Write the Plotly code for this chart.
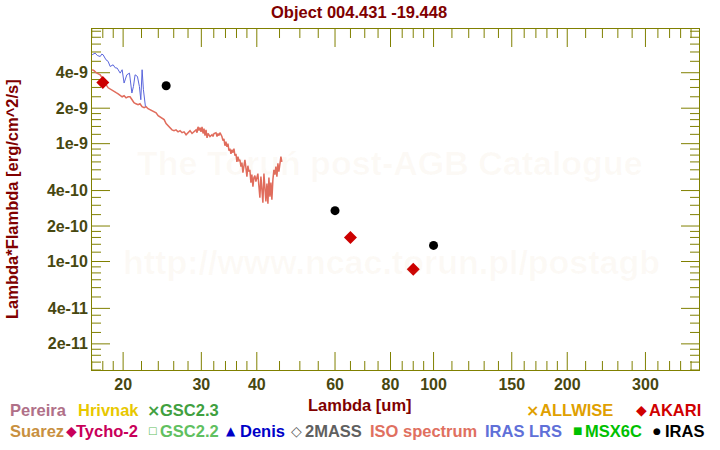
import math
import plotly.graph_objects as go

# ---------------- data ----------------
title_text = "Object 004.431 -19.448"

iso_wavelength = [
    17.03, 17.21, 17.39, 17.57, 17.76, 17.94, 18.13, 18.32, 18.51, 18.70,
    18.89, 19.09, 19.29, 19.49, 19.70, 19.90, 20.10, 20.31, 20.52, 20.73,
    20.95, 21.16, 21.38, 21.61, 21.83, 22.06, 22.30, 22.53, 22.76, 23.00,
    23.24, 23.48, 23.73, 23.98, 24.23, 24.48, 24.74, 24.99, 25.25, 25.50,
    25.77, 26.04, 26.31, 26.59, 26.87, 27.15, 27.43, 27.72, 28.00, 28.29,
    28.59, 28.88, 29.19, 29.34, 29.49, 29.65,
    29.80, 29.95, 30.11, 30.27, 30.42, 30.58, 30.74, 30.90, 31.06, 31.38,
    31.71, 31.87, 32.04, 32.37, 32.54, 32.70, 32.87, 33.04, 33.38, 33.56,
    33.73, 33.91, 34.08, 34.26, 34.44, 34.62, 34.80, 34.98, 35.16, 35.34,
    35.53, 35.71, 35.90, 36.08, 36.27, 36.46,
    36.65, 36.84, 37.03, 37.22, 37.41, 37.61, 37.80, 38.00, 38.19, 38.39,
    38.59, 38.79, 38.99, 39.20, 39.40, 39.60, 39.81, 40.02, 40.22, 40.43,
    40.64, 40.86, 41.07, 41.28, 41.50, 41.71, 41.93, 42.15, 42.37, 42.59,
    42.81, 43.03, 43.25, 43.48, 43.70, 43.93, 44.16, 44.39, 44.62, 44.85,
    45.08, 45.32, 45.55,
]
iso_flux = [
    4.24e-9, 4.16e-9, 4.00e-9, 3.92e-9, 3.84e-9, 3.62e-9, 3.42e-9, 3.16e-9, 2.98e-9, 2.92e-9,
    2.87e-9, 2.81e-9, 2.71e-9, 2.65e-9, 2.55e-9, 2.50e-9, 2.55e-9, 2.45e-9, 2.50e-9, 2.50e-9,
    2.36e-9, 2.23e-9, 2.18e-9, 2.14e-9, 2.18e-9, 2.06e-9, 2.02e-9, 2.06e-9, 1.98e-9, 1.94e-9,
    1.90e-9, 1.87e-9, 1.83e-9, 1.73e-9, 1.69e-9, 1.63e-9, 1.60e-9, 1.48e-9, 1.42e-9, 1.37e-9,
    1.31e-9, 1.29e-9, 1.31e-9, 1.26e-9, 1.29e-9, 1.24e-9, 1.26e-9, 1.19e-9, 1.24e-9, 1.29e-9,
    1.22e-9, 1.26e-9, 1.31e-9, 1.24e-9, 1.39e-9, 1.29e-9,
    1.37e-9, 1.26e-9, 1.39e-9, 1.22e-9, 1.34e-9, 1.17e-9, 1.31e-9, 1.12e-9, 1.22e-9, 1.15e-9,
    1.19e-9, 1.15e-9, 1.22e-9, 1.24e-9, 1.15e-9, 1.22e-9, 1.17e-9, 1.24e-9, 1.15e-9, 1.06e-9,
    1.10e-9, 9.6e-10, 1.04e-9, 9.4e-10, 1.00e-9, 8.72e-10, 9.07e-10, 8.2e-10, 8.9e-10, 8.39e-10,
    9.07e-10, 7.9e-10, 8.2e-10, 7.0e-10, 7.76e-10, 7.18e-10,
    7.3e-10, 6.38e-10, 6.9e-10, 5.68e-10, 6.8e-10, 7.3e-10, 6.26e-10, 5.25e-10, 6.5e-10, 5.8e-10,
    6.0e-10, 4.67e-10, 5.46e-10, 4.32e-10, 5.15e-10, 5.36e-10, 4.76e-10, 5.15e-10, 5.57e-10, 4.4e-10,
    3.48e-10, 5.25e-10, 4.07e-10, 3.16e-10, 5.57e-10, 3.84e-10, 3.23e-10, 4.58e-10, 3.1e-10, 5.15e-10,
    3.55e-10, 4.67e-10, 3.35e-10, 4.95e-10, 6.0e-10, 5.46e-10, 6.38e-10, 5.25e-10, 6.8e-10, 5.8e-10,
    6.9e-10, 7.76e-10, 7.0e-10,
]

lrs_wavelength = [17.03, 17.3, 17.5, 17.76, 17.9, 18.03, 18.3, 18.5, 18.7, 18.99,
                  19.2, 19.39, 19.7, 19.9, 20.1, 20.39, 20.67, 20.93, 21.10, 21.28,
                  21.54, 21.76, 21.92, 22.07, 22.22, 22.45]
lrs_flux = [5.68e-9, 5.87e-9, 5.6e-9, 5.49e-9, 5.75e-9, 5.68e-9, 5.15e-9, 5.0e-9, 4.52e-9, 4.67e-9,
            4.4e-9, 4.38e-9, 3.97e-9, 4.24e-9, 3.27e-9, 3.84e-9, 3.97e-9, 2.69e-9, 3.06e-9, 3.84e-9,
            3.72e-9, 3.06e-9, 2.36e-9, 4.24e-9, 2.87e-9, 2.07e-9]

iras_wavelength = [25, 60, 100]
iras_flux = [3.1e-9, 2.7e-10, 1.37e-10]

akari_wavelength = [18, 65, 90]
akari_flux = [3.3e-9, 1.6e-10, 8.6e-11]

x_tick_vals = [20, 30, 40, 60, 80, 100, 150, 200, 300]
x_tick_text = ["20", "30", "40", "60", "80", "100", "150", "200", "300"]
x_minor_vals = [17, 18, 19, 22, 24, 26, 28, 32, 34, 36, 38, 45, 50, 55, 65, 70, 75,
                85, 90, 95, 110, 120, 130, 140, 160, 170, 180, 190, 220, 240, 260,
                280, 320, 340, 360, 380]
y_tick_vals = [4e-9, 2e-9, 1e-9, 4e-10, 2e-10, 1e-10, 4e-11, 2e-11]
y_tick_text = ["4e-9", "2e-9", "1e-9", "4e-10", "2e-10", "1e-10", "4e-11", "2e-11"]
y_minor_mant = [1.2, 1.4, 1.6, 1.8, 2.5, 3, 3.5, 5, 6, 7, 8, 9]
y_minor_vals = [m * 10.0 ** e for e in (-11, -10, -9) for m in y_minor_mant]

legend_labels = ["Pereira", "Hrivnak", "GSC2.3", "ALLWISE", "AKARI",
                 "Suarez", "Tycho-2", "GSC2.2", "Denis", "2MASS",
                 "ISO spectrum", "IRAS LRS", "MSX6C", "IRAS"]
legend_symbols = ["", "", "×", "×", "◆",
                  "", "◆", "□", "▲", "◇",
                  "", "", "■", "●"]
legend_colors = ["#b07088", "#e8c800", "#40a040", "#e0a000", "#d00000",
                 "#c89040", "#c8005a", "#60c060", "#0000c8", "#606060",
                 "#e07060", "#6070d8", "#00c000", "#000000"]

# ---------------- layout helpers ----------------
W_FIG, H_FIG = 720, 450
L, R, T, B = 92, 21, 29, 80
PW = W_FIG - L - R
PH = H_FIG - T - B


def pxx(x):
    return (x - L) / PW


def pxy(y):
    return (H_FIG - B - y) / PH


FONT = "Liberation Sans, Arial, sans-serif"
OLIVE = "#808000"
TICKTXT = "#474710"
DARKRED = "#800000"
XRANGE = [math.log10(17.02), math.log10(396)]
YRANGE = [math.log10(1.2e-11), math.log10(9.4e-9)]
MAJOR_LEN, MINOR_LEN = 18, 9


def x_tick_segments(vals, length):
    """vertical tick marks on bottom and top frame, length in pixels"""
    dy = length / PH * (YRANGE[1] - YRANGE[0])
    xs, ys = [], []
    for v in vals:
        xs += [v, v, None, v, v, None]
        ys += [10 ** YRANGE[0], 10 ** (YRANGE[0] + dy), None,
               10 ** YRANGE[1], 10 ** (YRANGE[1] - dy), None]
    return xs, ys


def y_tick_segments(vals, length):
    """horizontal tick marks on left and right frame, length in pixels"""
    dx = length / PW * (XRANGE[1] - XRANGE[0])
    xs, ys = [], []
    for v in vals:
        xs += [10 ** XRANGE[0], 10 ** (XRANGE[0] + dx), None,
               10 ** XRANGE[1], 10 ** (XRANGE[1] - dx), None]
        ys += [v, v, None, v, v, None]
    return xs, ys


fig = go.Figure()

# tick marks (drawn through the axes' own log scales)
for vals, ln, fn in [(x_tick_vals, MAJOR_LEN, x_tick_segments),
                     (x_minor_vals, MINOR_LEN, x_tick_segments),
                     (y_tick_vals, MAJOR_LEN, y_tick_segments),
                     (y_minor_vals, MINOR_LEN, y_tick_segments)]:
    tx, ty = fn(vals, ln)
    fig.add_trace(go.Scatter(x=tx, y=ty, mode="lines", line=dict(color=OLIVE, width=1),
                             hoverinfo="skip", showlegend=False, cliponaxis=True))

fig.add_trace(go.Scatter(x=iso_wavelength, y=iso_flux, mode="lines",
                         line=dict(color="#e06c5c", width=1.5), showlegend=False))
fig.add_trace(go.Scatter(x=lrs_wavelength, y=lrs_flux, mode="lines",
                         line=dict(color="#5a66dc", width=1.0), showlegend=False))
fig.add_trace(go.Scatter(x=iras_wavelength, y=iras_flux, mode="markers",
                         marker=dict(color="black", size=9, symbol="circle"), showlegend=False))
fig.add_trace(go.Scatter(x=akari_wavelength, y=akari_flux, mode="markers",
                         marker=dict(color="#cc0000", size=10, symbol="diamond"), showlegend=False))

annotations = []
WM = "rgba(215,170,110,0.06)"
annotations.append(dict(text="<b>The Toruń post-AGB Catalogue</b>", xref="paper", yref="paper",
                        x=pxx(390), y=pxy(163), xanchor="center", yanchor="middle", showarrow=False,
                        font=dict(family=FONT, size=34, color=WM)))
annotations.append(dict(text="<b>http://www.ncac.torun.pl/postagb</b>", xref="paper", yref="paper",
                        x=pxx(391), y=pxy(262), xanchor="center", yanchor="middle", showarrow=False,
                        font=dict(family=FONT, size=34, color=WM)))
annotations.append(dict(text="<b>" + title_text + "</b>", xref="paper", yref="paper",
                        x=pxx(359), y=pxy(12), xanchor="center", yanchor="middle", showarrow=False,
                        font=dict(family=FONT, size=16.5, color=DARKRED)))
annotations.append(dict(text="<b>Lambda [um]</b>", xref="paper", yref="paper",
                        x=pxx(360), y=pxy(405), xanchor="center", yanchor="middle", showarrow=False,
                        font=dict(family=FONT, size=16.5, color=DARKRED)))
annotations.append(dict(text="<b>Lambda*Flambda [erg/cm^2/s]</b>", xref="paper", yref="paper",
                        x=pxx(12), y=pxy(199), xanchor="center", yanchor="middle",
                        showarrow=False, textangle=-90,
                        font=dict(family=FONT, size=16.5, color=DARKRED)))

leg_sym_x = [None, None, 145, 524, 634, None, 64, 146, 224, 289, None, None, 571, 651]
leg_txt_x = [10, 78, 160, 540, 649, 10, 76, 160, 240, 305, 370, 485, 585, 665]
leg_row_y = [410.5] * 5 + [430.5] * 9
sym_size = {"×": 16, "◆": 14, "□": 10, "▲": 12, "◇": 14, "■": 10, "●": 9}
for lab, sym, col, sx, tx, ry in zip(legend_labels, legend_symbols, legend_colors,
                                      leg_sym_x, leg_txt_x, leg_row_y):
    if sym:
        annotations.append(dict(text="<b>" + sym + "</b>" if sym == "×" else sym,
                                xref="paper", yref="paper", x=pxx(sx), y=pxy(ry),
                                xanchor="left", yanchor="middle", showarrow=False,
                                font=dict(family="DejaVu Sans", size=sym_size[sym], color=col)))
    annotations.append(dict(text="<b>" + lab + "</b>", xref="paper", yref="paper",
                            x=pxx(tx), y=pxy(ry), xanchor="left", yanchor="middle",
                            showarrow=False, xshift=-2,
                            font=dict(family=FONT, size=16.5, color=col)))

axis_common = dict(showgrid=False, zeroline=False, showline=True, linecolor=OLIVE,
                   linewidth=1, mirror=True, ticks="")
tick_font = dict(family=FONT, size=16, color=TICKTXT, weight="bold")

fig.update_layout(
    width=W_FIG, height=H_FIG,
    margin=dict(l=L, r=R, t=T, b=B),
    paper_bgcolor="white", plot_bgcolor="white",
    showlegend=False,
    annotations=annotations,
    xaxis=dict(type="log", range=XRANGE, tickmode="array", tickvals=x_tick_vals,
               ticktext=x_tick_text, tickfont=tick_font, **axis_common),
    yaxis=dict(type="log", range=YRANGE, tickmode="array", tickvals=y_tick_vals,
               ticktext=y_tick_text, tickfont=tick_font, **axis_common),
)

fig.write_html("out.html")
